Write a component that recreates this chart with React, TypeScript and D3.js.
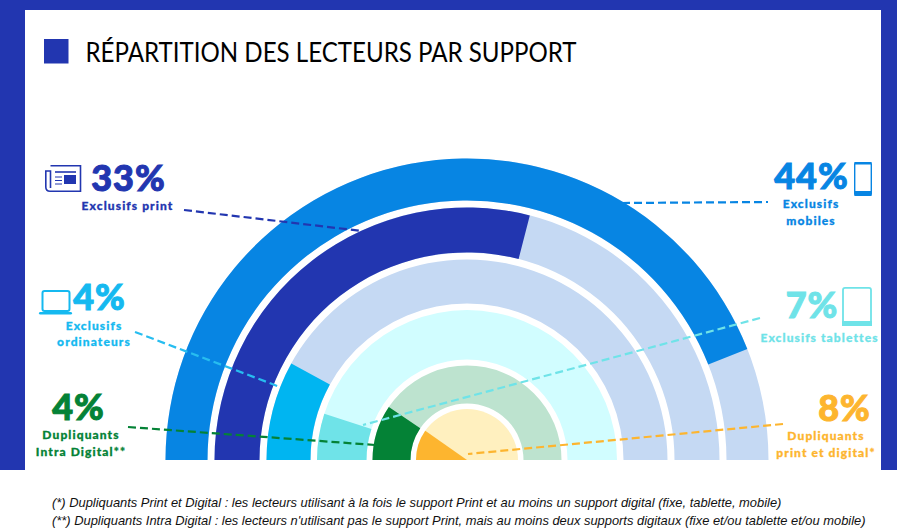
import * as d3 from 'd3';

// Values printed on the chart, outer ring first
const ringLabels = ['Exclusifs mobiles', 'Exclusifs print', 'Exclusifs ordinateurs', 'Exclusifs tablettes', 'Dupliquants Intra Digital', 'Dupliquants print et digital'];
const ringPercents = [44, 33, 4, 7, 4, 8];
// How much of the half circle each coloured arc really covers in the picture
const ringDrawnShare = [88, 58, 16, 10, 19, 19.5];
const ringColors = ['#0785e3', '#2236b0', '#00b5f1', '#6fe3e8', '#048236', '#fdb52f'];
const ringTrackColors = ['#c5d9f3', '#c5d9f3', '#c5d9f3', '#d1fdff', '#bde3cf', '#fff0bf'];

const footnotes = [
  '(*) Dupliquants Print et Digital : les lecteurs utilisant à la fois le support Print et au moins un support digital (fixe, tablette, mobile)',
  "(**) Dupliquants Intra Digital : les lecteurs n'utilisant pas le support Print, mais au moins deux supports digitaux (fixe et/ou tablette et/ou mobile)",
];

const WIDTH = 897;
const HEIGHT = 528;
const BLUE = '#2236b0';
const cx = 467;
const cy = 460;
const FONT = 'Lato, "Open Sans", sans-serif';

// ring thickness is not regular in the original
const outerRadii = [301.5, 252.5, 200.5, 150, 94.5, 51];
const innerRadii = [259.5, 207.5, 156.5, 100.5, 56.5, 0];

// 0 = left end of the half circle, 100 = right end
const angle = d3.scaleLinear().domain([0, 100]).range([-Math.PI / 2, Math.PI / 2]);

const arc = d3.arc<{ inner: number; outer: number; from: number; to: number }>()
  .innerRadius(d => d.inner)
  .outerRadius(d => d.outer)
  .startAngle(d => angle(d.from))
  .endAngle(d => angle(d.to));

function Callout({ x, y, pct, color, lines, lx, ly }: {
  x: number; y: number; pct: string; color: string; lines: string[]; lx: number; ly: number[];
}) {
  return (
    <g fill={color} stroke={color} fontFamily={FONT}>
      <text x={x} y={y} fontSize={36} fontWeight={900} strokeWidth={1} textAnchor="middle" letterSpacing={1}>{pct}</text>
      {lines.map((t, i) => (
        <text key={t} x={lx} y={ly[i]} fontSize={12} fontWeight={900} strokeWidth={0.3} textAnchor="middle" letterSpacing={1.1}>{t}</text>
      ))}
    </g>
  );
}

function Leader({ x1, y1, x2, y2, color }: { x1: number; y1: number; x2: number; y2: number; color: string }) {
  return <line x1={x1} y1={y1} x2={x2} y2={y2} stroke={color} strokeWidth={2.2} strokeDasharray="8 4" />;
}

export default function App() {
  return (
    <svg width={WIDTH} height={HEIGHT} viewBox={`0 0 ${WIDTH} ${HEIGHT}`}
      style={{ position: 'absolute', left: 0, top: 0, background: '#fff' }}>
      {/* frame */}
      <rect x={0} y={0} width={WIDTH} height={470} fill={BLUE} />
      <rect x={25} y={10} width={856} height={460} fill="#fff" />

      {/* title */}
      <rect x={44} y={39} width={24.5} height={24.5} fill={BLUE} />
      <text x={85.5} y={62} fontFamily={FONT} fontSize={26} fill="#000" textLength={491} lengthAdjust="spacingAndGlyphs">
        RÉPARTITION DES LECTEURS PAR SUPPORT
      </text>

      {/* rings */}
      <g transform={`translate(${cx},${cy})`}>
        {ringPercents.map((_, i) => {
          const inner = innerRadii[i];
          const outer = outerRadii[i];
          return (
            <g key={ringLabels[i]}>
              <path d={arc({ inner, outer, from: 0, to: 100 }) as string} fill={ringTrackColors[i]} />
              <path d={arc({ inner, outer, from: 0, to: ringDrawnShare[i] }) as string} fill={ringColors[i]} />
            </g>
          );
        })}
      </g>

      {/* leader lines */}
      <Leader x1={184} y1={210} x2={362} y2={231} color="#2236b0" />
      <Leader x1={622} y1={203} x2={768} y2={202} color="#0785e3" />
      <Leader x1={135} y1={332} x2={280} y2={387} color="#27bdf0" />
      <Leader x1={760} y1={318} x2={363} y2={425} color="#6fe3e8" />
      <Leader x1={128} y1={427} x2={375} y2={445} color="#048236" />
      <Leader x1={783} y1={424} x2={468} y2={454} color="#fdb52f" />

      {/* callouts */}
      <Callout x={128.5} y={190.5} pct={`${ringPercents[1]}%`} color="#2236b0" lines={['Exclusifs print']} lx={127.5} ly={[209.5]} />
      <Callout x={99.5} y={310} pct={`${ringPercents[2]}%`} color="#15b9f0" lines={['Exclusifs', 'ordinateurs']} lx={94} ly={[330, 346]} />
      <Callout x={78.5} y={420} pct={`${ringPercents[4]}%`} color="#048236" lines={['Dupliquants', 'Intra Digital**']} lx={81} ly={[439, 456]} />
      <Callout x={811.5} y={189} pct={`${ringPercents[0]}%`} color="#0785e3" lines={['Exclusifs', 'mobiles']} lx={811} ly={[208, 225]} />
      <Callout x={812} y={318} pct={`${ringPercents[3]}%`} color="#6fe3e8" lines={['Exclusifs tablettes']} lx={819.5} ly={[342]} />
      <Callout x={844.5} y={421} pct={`${ringPercents[5]}%`} color="#fdb52f" lines={['Dupliquants', 'print et digital*']} lx={826} ly={[439.5, 457]} />

      {/* newspaper icon */}
      <g fill="none" stroke="#2236b0" strokeWidth={1.6}>
        <path d="M50.5 165.8 H80.5 V191.2 H50 C47 191.2 45.8 189.5 45.8 187 V171 H50.5 V188" />
        <path d="M55 172 H76" />
        <path d="M55 177 H62 M55 180.5 H62 M55 184 H62" strokeWidth={1} />
      </g>
      <rect x={64} y={175} width={12} height={9} fill="#2236b0" />

      {/* laptop icon */}
      <g fill="none" stroke="#15b9f0" strokeWidth={2}>
        <rect x={42.5} y={291} width={27} height={20} rx={2} />
      </g>
      <rect x={39} y={312} width={33} height={2.6} rx={1.3} fill="#15b9f0" />

      {/* phone icon */}
      <g fill="none" stroke="#0785e3" strokeWidth={1.4}>
        <rect x={854.7} y={162.7} width={16.6} height={32.6} rx={1.5} />
      </g>
      <rect x={854.5} y={191} width={17} height={5} fill="#0785e3" />
      <rect x={854.5} y={162} width={17} height={2.5} fill="#0785e3" />

      {/* tablet icon */}
      <g fill="none" stroke="#6fe3e8" strokeWidth={1.8}>
        <rect x={843} y={287.9} width={28} height={37} rx={2} />
      </g>
      <rect x={842} y={321} width={30} height={5} fill="#6fe3e8" />

      {/* footnotes */}
      {footnotes.map((t, i) => (
        <text key={t} x={52} y={507 + i * 18} fontFamily='"Liberation Sans", Arial, sans-serif' fontStyle="italic" fontSize={12.9} fill="#111">
          {t}
        </text>
      ))}
    </svg>
  );
}
